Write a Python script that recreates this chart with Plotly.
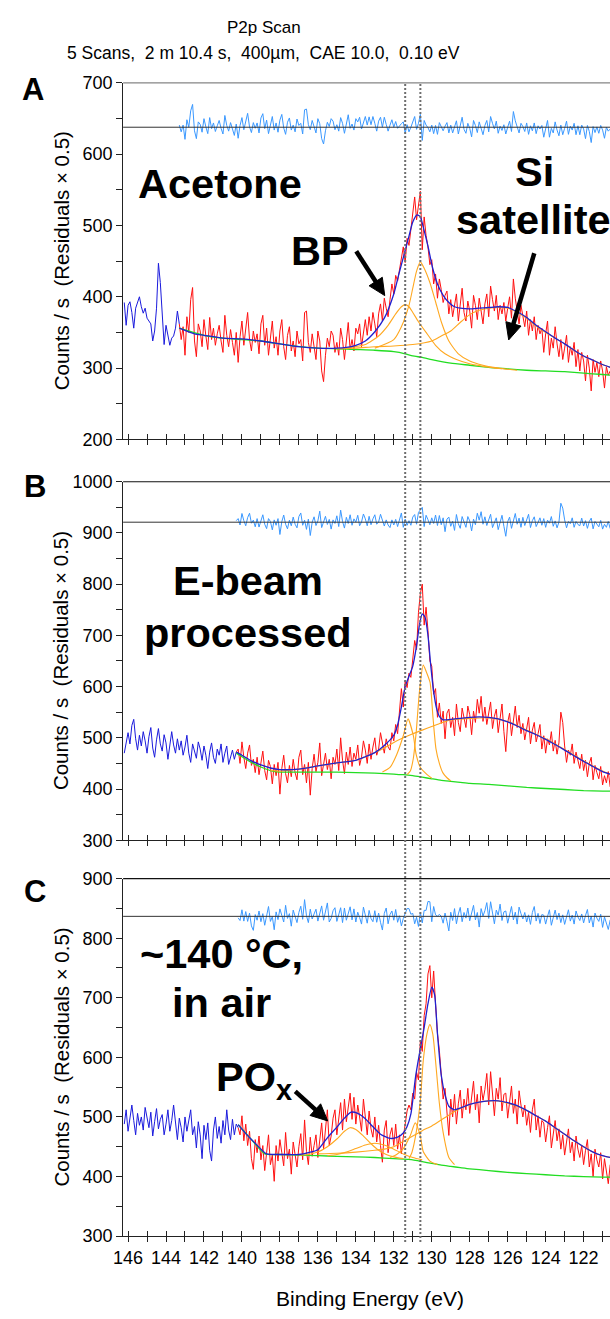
import numpy as np
import plotly.graph_objects as go

W, H = 610, 1319
FONT = "Liberation Sans, Arial, sans-serif"

# ---------------------------------------------------------------- energy grid
E_FIRST = 146.2          # first channel of the scan (eV)
E_STEP = 0.1             # step size (eV)
X_RANGE = [146.26, 120.61]
PEAK_LINES = [131.4, 130.6]   # dotted guides at the P 2p doublet

# ================================================================ panel A
FIT_START_A = 143.3
RES_ZERO_A = 637.8
RAW_A = [
    392, 360, 388, 393, 378, 356, 384, 392, 400, 386,
    377, 384, 370, 366, 362, 338, 352, 384, 447, 420,
    372, 333, 360, 348, 332, 342, 345, 356, 380, 362,
    340, 358, 318, 372, 350, 396, 413, 338, 316, 362,
    352, 330, 368, 345, 326, 371, 340, 356, 332, 348,
    360, 338, 322, 374, 346, 330, 354, 336, 318, 350,
    308, 344, 366, 332, 358, 378, 340, 324, 352, 336,
    348, 320, 362, 374, 332, 356, 318, 340, 366, 328,
    344, 318, 352, 368, 330, 312, 346, 358, 324, 338,
    316, 352, 334, 340, 310, 378, 380, 336, 322, 348,
    330, 312, 352, 338, 296, 281, 318, 342, 330, 352,
    346, 322, 336, 318, 356, 340, 312, 338, 364, 326,
    340, 324, 356, 348, 362, 330, 352, 368, 346, 372,
    352, 378, 362, 344, 376, 390, 366, 398, 384, 372,
    396, 418, 404, 430, 422, 440, 455, 470, 448, 482,
    472, 495, 520, 540, 508, 525, 548, 466, 512, 486,
    470, 445, 452, 418, 432, 398, 425, 410, 392, 402,
    408, 376, 396, 372, 388, 404, 366, 392, 412, 378,
    366, 394, 380, 356, 402, 388, 368, 398, 376, 362,
    390, 404, 372, 415, 396, 380, 402, 368, 388, 376,
    392, 366, 384, 400, 370, 425, 398, 376, 362, 388,
    374, 358, 380, 346, 368, 352, 372, 340, 360, 348,
    356, 322, 348, 366, 318, 342, 328, 358, 334, 316,
    340, 312, 328, 346, 308, 330, 318, 336, 302, 326,
    296, 322, 310, 282, 318, 300, 268, 312, 294, 308,
    288, 310, 296, 272, 302, 290, 296,
]
RES_A = [
    6,
    -13, 6, -34, 21, 0, 46, 64, -10, -32, 15,
    8, -14, 24, 1, -18, 27, -4, 12, -12, 4,
    19, -3, -19, 33, 5, -11, 13, -5, -23, 9,
    -31, 5, 27, -7, 19, 39, 1, -15, 13, -3,
    12, -16, 26, 38, -4, 20, -18, 4, 30, -8,
    12, -14, 20, 36, -2, -20, 14, 26, -8, 6,
    -13, 23, 5, 11, -19, 49, 51, 7, -7, 19,
    2, -16, 24, 10, -32, -47, -10, 14, 2, 24,
    17, -7, 7, -11, 27, 11, -17, 9, 35, -3,
    9, -8, 24, 15, 28, -5, 15, 30, 6, 29,
    7, 30, 11, -11, 17, 28, 0, 28, 8, -11,
    6, 21, 0, 16, -3, 5, 10, 15, -17, 7,
    -13, 0, 15, 30, -6, 11, 36, -37, 19, 6,
    -1, -13, 6, -18, 5, -20, 13, 3, -10, 3,
    13, -16, 6, -16, 2, 18, -19, 8, 28, -6,
    -17, 11, -3, -27, 19, 5, -15, 15, -7, -21,
    5, 19, -13, 30, 11, -5, 17, -17, 3, -9,
    7, -19, 0, 17, -12, 44, 18, -3, -16, 11,
    2, -12, 12, -20, 4, -10, 12, -18, 4, -5,
    5, -28, 0, 19, -28, -3, -16, 15, -8, -24,
    6, -21, -3, 17, -20, 3, -8, 11, -21, 4,
    -21, 6, -5, -32, 5, -12, -43, 2, -15, 1,
    -17, 5, -8, -31, 0, -11, -5,
]
ENV_A_E = [143.3, 142.5, 142, 141, 140, 139, 138, 137, 136, 135, 134.5, 134, 133.5,
           133, 132.5, 132, 131.75, 131.5, 131.2, 131.0, 130.77, 130.6, 130.45, 130.2,
           129.95, 129.7, 129.4, 129.1, 128.8, 128.5, 128, 127.5, 127, 126.5, 126, 125.5,
           125, 124.5, 124, 123.5, 123, 122.5, 122, 121.5, 121, 120.6]
ENV_A = [356, 348, 346, 342, 341, 338, 334, 330, 328, 328, 329, 332, 338,
         351, 370, 404, 430, 455, 485, 505, 515, 512, 498, 471,
         440, 418, 402, 392, 386, 384, 383, 384, 385, 386, 385, 379,
         371, 360, 351, 342, 334, 325, 317, 311, 305, 301]
BG_A_E = [143.3, 142, 141, 140, 139, 138, 137, 136, 135, 134, 133, 132, 131.4, 131,
          130.5, 130, 129, 128, 127, 126, 125, 124, 123, 122, 121, 120.6]
BG_A = [356, 346, 342, 340, 338, 334, 330, 328, 327, 326, 325, 323, 320, 317,
        315, 312, 307, 304, 301, 299, 297, 296, 295, 293, 291, 290]
COMPS_A = [
    ([133.0, 132.0, 131.6, 131.2, 131.0, 130.8, 130.6, 130.4, 130.1, 129.8, 129.5,
      129.1, 128.6, 128.0, 127.3, 126.5, 125.5],
     [328, 340, 358, 388, 412, 436, 449, 440, 420, 393, 365, 338, 320, 310, 304, 300, 297]),
    ([134.5, 133.5, 132.8, 132.3, 131.9, 131.6, 131.4, 131.2, 131.0, 130.7, 130.3,
      129.8, 129.3, 128.7, 128.0, 127.2, 126.3],
     [328, 333, 345, 360, 376, 386, 389, 386, 378, 365, 350, 332, 320, 312, 306, 302, 299]),
    ([135, 134, 133, 132, 131, 130, 129.5, 129, 128.5, 128, 127.5, 127, 126.5, 126,
      125.5, 125, 124.5, 124, 123.5, 123, 122.5, 122, 121.5, 121, 120.6],
     [327, 328, 330, 331, 333, 338, 345, 352, 364, 375, 381, 384, 385, 384,
      378, 370, 359, 350, 342, 334, 325, 317, 311, 305, 301]),
]

# ================================================================ panel B
FIT_START_B = 140.3
RES_ZERO_B = 921.0
RAW_B = [
    470, 492, 510, 488, 524, 536, 498, 476, 505, 484,
    512, 494, 470, 502, 520, 480, 462, 496, 518, 488,
    474, 506, 490, 458, 482, 512, 486, 470, 498, 476,
    494, 466, 482, 505, 470, 452, 488, 472, 460, 492,
    478, 456, 484, 466, 440, 472, 490, 462, 450, 478,
    466, 488, 452, 470, 484, 448, 462, 476, 458, 472,
    478, 450, 492, 462, 440, 470, 486, 446, 458, 432,
    462, 428, 450, 474, 436, 418, 456, 444, 410, 448,
    426, 452, 390, 440, 466, 430, 412, 446, 424, 458,
    432, 418, 462, 476, 428, 448, 412, 452, 388, 440,
    468, 434, 452, 490, 426, 446, 470, 438, 458, 420,
    462, 448, 478, 436, 500, 456, 430, 472, 448, 482,
    444, 470, 458, 486, 446, 462, 494, 476, 450, 488,
    458, 482, 500, 466, 478, 510, 488, 470, 498, 482,
    476, 510, 494, 526, 508, 548, 596, 560, 612, 598,
    626, 618, 660, 690, 672, 745, 782, 800, 720, 755,
    710, 650, 640, 585, 596, 540, 568, 528, 552, 498,
    548, 556, 520, 540, 504, 566, 530, 512, 558, 536,
    520, 562, 545, 506, 552, 530, 575, 548, 581, 532,
    560, 526, 548, 570, 518, 542, 556, 510, 538, 566,
    512, 473, 530, 548, 504, 536, 562, 520, 544, 508,
    528, 496, 520, 540, 488, 515, 530, 492, 508, 526,
    478, 504, 470, 498, 486, 512, 474, 495, 468, 490,
    550, 530, 484, 452, 476, 466, 488, 450, 472, 458,
    440, 468, 436, 456, 424, 450, 462, 418, 446, 432,
    420, 444, 408, 426, 412, 434, 404,
]
RES_B = [
    6,
    14, -11, 34, 6, -14, 18, 35, -4, 8, -18,
    14, -19, 4, 29, -8, -25, 14, 3, -30, 9,
    -12, 14, -48, 2, 28, -8, -26, 8, -14, 20,
    -8, -22, 22, 36, -12, 8, -28, 12, -52, 0,
    21, -13, 5, 43, -21, -1, 23, -9, 11, -27,
    9, -5, 25, -17, 47, 3, -23, 19, -5, 29,
    -12, 13, 0, 27, -14, 1, 32, 13, -14, 23,
    -10, 13, 29, -8, 1, 31, 6, -15, 9, -11,
    -21, 9, -11, 11, -17, 6, 36, -20, 12, -12,
    6, -12, 20, 30, -8, 38, 49, 58, -17, 27,
    10, -10, 17, -5, 28, -13, 26, -10, 17, -37,
    12, 20, -16, 4, -32, 30, -6, -24, 22, 0,
    -20, 22, 5, -34, 12, -10, 35, 8, 41, -8,
    21, -13, 9, 31, -21, 3, 17, -29, -1, 27,
    -16, -55, 2, 20, -24, 8, 34, -8, 16, -20,
    19, -13, 11, 31, -21, 6, 21, -17, -1, 17,
    -12, 14, -20, 8, -4, 22, -16, 5, -22, 0,
    74, 55, 9, -22, 3, -6, 17, -20, 3, -9,
    -14, 16, -15, 6, -24, 3, 16, -26, 3, -9,
    -18, 7, -27, -8, -20, 3, -25,
]
ENV_B_E = [140.3, 140, 139.5, 139, 138.5, 138, 137, 136, 135, 134, 133.5, 133, 132.5,
           132, 131.8, 131.6, 131.4, 131.2, 131.0, 130.8, 130.65, 130.5, 130.35, 130.2,
           130.05, 129.9, 129.75, 129.6, 129.4, 129, 128.5, 128, 127.5, 127, 126.5, 126,
           125.5, 125, 124.5, 124, 123.5, 123, 122.5, 122, 121.5, 121, 120.6]
ENV_B = [472, 466, 455, 447, 441, 438, 439, 445, 451, 456, 463, 471, 485,
         505, 525, 560, 600, 620, 640, 680, 720, 742, 735, 700,
         640, 590, 558, 542, 535, 536, 538, 540, 541, 540, 537, 531,
         523, 514, 506, 497, 487, 476, 465, 454, 444, 434, 429]
BG_B_E = [140.3, 140, 139.5, 139, 138.5, 138, 137, 136, 135, 134, 133, 132, 131.5, 131,
          130.5, 130, 129.5, 129, 128.5, 128, 127, 126, 125, 124, 123, 122, 121, 120.6]
BG_B = [470, 463, 452, 443, 436, 433, 433, 433, 433, 432, 431, 429, 428, 426,
        423, 420, 417, 415, 413, 411, 409, 406, 403, 401, 399, 397, 396, 396]
COMPS_B = [
    ([131.3, 131.13, 130.97, 130.82, 130.65, 130.45, 130.3, 130.09, 129.94, 129.78,
      129.6, 129.42, 129.2, 129.0],
     [428, 435, 460, 511, 590, 642, 630, 608, 542, 479, 450, 432, 422, 416]),
    ([132.6, 132.2, 131.85, 131.5, 131.25, 130.97, 130.82, 130.6, 130.3, 130.0],
     [433, 442, 467, 504, 537, 504, 467, 442, 430, 421]),
    ([138.5, 138, 137, 136, 135, 134, 133, 132.5, 132, 131.5, 131, 130.5, 130, 129.5,
      129, 128, 127, 126, 125, 124, 123, 122, 121, 120.6],
     [436, 435, 439, 445, 451, 456, 471, 480, 491, 500, 508, 515, 522, 529,
      535, 538, 539, 532, 515, 498, 477, 455, 435, 429]),
]

# ================================================================ panel C
FIT_START_C = 140.2
RES_ZERO_C = 836.7
RAW_C = [
    488, 512, 476, 498, 520, 494, 470, 506, 486, 500,
    478, 516, 496, 482, 508, 468, 492, 514, 480, 496,
    504, 470, 488, 512, 476, 494, 520, 486, 462, 498,
    482, 458, 500, 476, 494, 512, 470, 484, 448, 492,
    470, 430, 486, 462, 490, 444, 426, 478, 500, 464,
    484, 456, 494, 470, 512, 478, 462, 496, 470, 488,
    482,
    470, 502, 460, 488, 452, 476, 430, 412, 462, 440,
    468, 428, 452, 410, 444, 470, 420, 436, 392, 452,
    426, 462, 440, 418, 474, 430, 446, 404, 458, 432,
    416, 450, 472, 428, 495, 442, 420, 466, 434, 452,
    470, 432, 458, 490, 446, 480, 512, 452, 468, 498,
    512, 470, 500, 524, 478, 530, 492, 515, 540, 496,
    533, 488, 520, 500, 476, 530, 498, 470, 510, 480,
    466, 500, 458, 486, 452, 424, 478, 494, 440, 470,
    482, 452, 488, 446, 470, 438, 466, 486, 510, 520,
    512, 540, 530, 575, 562, 628, 610, 670, 690, 740,
    754, 700, 745, 690, 640, 612, 570, 530, 548, 510,
    469, 530, 500, 538, 488, 522, 545, 498, 530, 512,
    548, 506, 530, 560, 512, 538, 490, 552, 528, 546,
    573, 520, 576, 540, 502, 548, 530, 566, 510, 538,
    540, 498, 526, 552, 506, 530, 488, 544, 520, 500,
    520, 486, 508, 474, 512, 530, 478, 502, 466, 494,
    490, 458, 482, 502, 448, 476, 494, 460, 480, 446,
    470, 436, 462, 480, 440, 458, 426, 468, 446, 432,
    452, 420, 444, 462, 416, 438, 400, 446, 428, 416,
    440, 396, 430, 412, 388, 420,
]
RES_C = [
    -5,
    -14, 22, -16, 16, -17, 11, -32, -47, 6, -13,
    18, -18, 9, -30, 6, 33, -17, -1, -45, 15,
    -11, 25, 3, -19, 37, -7, 9, -33, 21, -5,
    -21, 13, 34, -10, 56, 2, -21, 24, -9, 8,
    24, -16, 7, 35, -13, 17, 45, -19, -7, 19,
    29, -17, 9, 29, -21, 28, -13, 8, 32, -12,
    25, -19, 14, -4, -26, 31, 2, -23, 20, -7,
    -18, 19, -20, 11, -20, -46, 10, 28, -25, 6,
    18, -13, 23, -20, 2, -32, -7, 8, 26, 26,
    7, 10, -25, -3, -34, 13, -22, 20, 20, 50,
    49, -18, 33, 5, 0, 7, 0, -23, 11, -17,
    -49, 14, -14, 26, -25, 8, 30, -18, 13, -6,
    28, -15, 8, 37, -12, 13, -36, 26, 1, 19,
    46, -7, 49, 13, -25, 21, 4, 41, -14, 15,
    18, -23, 6, 33, -12, 14, -26, 31, 9, -9,
    13, -19, 5, -27, 13, 33, -16, 10, -24, 6,
    4, -26, 0, 22, -30, 0, 21, -11, 11, -21,
    5, -27, 2, 22, -16, 4, -26, 18, -2, -14,
    8, -22, 3, 23, -22, 1, -36, 11, -6, -17,
    7, -37, -2, -20, -44, -12,
]
ENV_C_E = [140.2, 139.8, 139.4, 139.0, 138.7, 138, 137.5, 137, 136.5, 136, 135.5, 135,
           134.6, 134.25, 133.9, 133.5, 133.2, 132.7, 132.2, 131.8, 131.5, 131.3, 131.1,
           130.85, 130.6, 130.4, 130.2, 130.0, 129.85, 129.7, 129.5, 129.3, 129.1, 128.8,
           128.4, 128, 127.5, 127, 126.5, 126, 125.5, 125, 124.5, 124, 123.5, 123, 122.5,
           122, 121.5, 121, 120.6]
ENV_C = [487, 472, 459, 446, 438, 437, 437, 437, 440, 445, 465, 483,
         498, 508, 506, 497, 487, 471, 464, 466, 473, 484, 505,
         568, 615, 650, 690, 718, 705, 640, 570, 537, 518, 512,
         516, 521, 525, 527, 527, 524, 519, 511, 502, 493, 482, 471, 460,
         450, 441, 435, 432]
BG_C_E = [140.2, 139.5, 138.8, 138, 137, 136, 135, 134, 133, 132, 131, 130.5, 130, 129.5,
          129, 128.5, 128, 127, 126, 125, 124, 123, 122, 121, 120.6]
BG_C = [487, 462, 438, 437, 436, 435, 434, 433, 432, 430, 428, 425, 422, 419,
        417, 415, 413, 410, 407, 405, 403, 401, 400, 399, 399]
COMPS_C = [
    ([131.2, 131.05, 130.82, 130.6, 130.45, 130.25, 130.1, 129.95, 129.8, 129.6, 129.4,
      129.1, 128.8],
     [430, 440, 474, 528, 594, 640, 655, 640, 594, 523, 474, 432, 420]),
    ([132.2, 131.85, 131.5, 131.13, 130.87, 130.61, 130.45, 130.1, 129.7],
     [432, 437, 447, 469, 490, 469, 442, 426, 420]),
    ([137.0, 136.5, 136.0, 135.5, 135.0, 134.6, 134.3, 134.0, 133.6, 133.2, 132.8,
      132.4, 132.0, 131.5],
     [436, 437, 441, 450, 463, 476, 482, 479, 468, 455, 444, 437, 433, 430]),
    ([135.5, 135.0, 134.5, 134.0, 133.5, 133.0, 132.5, 132.0, 131.5, 131.0, 130.5],
     [435, 437, 441, 447, 453, 456, 453, 446, 438, 432, 428]),
    ([136, 135, 134, 133, 132.5, 132, 131.5, 131, 130.5, 130, 129.5, 129, 128.5, 128,
      127.5, 127, 126.5, 126, 125.5, 125, 124.5, 124, 123.5, 123, 122.5, 122, 121.5,
      121, 120.6],
     [438, 439, 441, 444, 446, 450, 459, 468, 477, 485, 495, 505, 514, 521,
      525, 527, 527, 523, 518, 511, 502, 493, 482, 471, 460, 450, 441, 435, 432]),
]

# ---------------------------------------------------------------- colours
C_RAW_OUT = "#1a1adc"
C_RAW_IN = "#ff1010"
C_ENV = "#2020d0"
C_RES = "#3a98ff"
C_BG = "#22dd22"
C_COMP = "#ffa820"

# pixel geometry of the three panels (top, bottom)
PANELS = [
    dict(top=74, bottom=436, yr=[200, 700], raw=RAW_A, res=RES_A, start=FIT_START_A,
         zero=RES_ZERO_A, env=(ENV_A_E, ENV_A), bg=(BG_A_E, BG_A), comps=COMPS_A,
         frame="#858585"),
    dict(top=479, bottom=843, yr=[300, 1000], raw=RAW_B, res=RES_B, start=FIT_START_B,
         zero=RES_ZERO_B, env=(ENV_B_E, ENV_B), bg=(BG_B_E, BG_B), comps=COMPS_B,
         frame="#111111"),
    dict(top=882, bottom=1245, yr=[300, 900], raw=RAW_C, res=RES_C, start=FIT_START_C,
         zero=RES_ZERO_C, env=(ENV_C_E, ENV_C), bg=(BG_C_E, BG_C), comps=COMPS_C,
         frame="#111111"),
]

TICK_SIZE = 18


def px_x(px):
    return px / W


def px_y(py):
    return 1 - py / H


def energies(start, n):
    return np.round(start - E_STEP * np.arange(n), 2)


fig = go.Figure()
layout = dict(
    width=W, height=H, margin=dict(l=0, r=0, t=0, b=0),
    paper_bgcolor="white", plot_bgcolor="white", showlegend=False,
    font=dict(family=FONT, color="black"),
)
shapes, annotations = [], []
X_DOMAIN = [px_x(115), 1.0]

for i, p in enumerate(PANELS):
    n = i + 1
    xa = "x" if n == 1 else f"x{n}"
    ya = "y" if n == 1 else f"y{n}"
    xo = f"x{n + 3}"

    # residuals, drawn around their own zero line
    ex = energies(p["start"], len(p["res"]))
    fig.add_trace(go.Scatter(x=ex, y=p["zero"] + 0.5 * np.array(p["res"]), mode="lines",
                             line=dict(color=C_RES, width=1), xaxis=xa, yaxis=ya))

    # measured counts: outside the fit window in blue, inside in red
    e_all = energies(E_FIRST, len(p["raw"]))
    raw = np.array(p["raw"], dtype=float)
    outside = e_all >= p["start"] - 1e-6
    inside = e_all <= p["start"] + 1e-6
    fig.add_trace(go.Scatter(x=e_all[outside], y=raw[outside], mode="lines",
                             line=dict(color=C_RAW_OUT, width=1), xaxis=xa, yaxis=ya))
    fig.add_trace(go.Scatter(x=e_all[inside], y=raw[inside], mode="lines",
                             line=dict(color=C_RAW_IN, width=1), xaxis=xa, yaxis=ya))

    # background, components, envelope
    fig.add_trace(go.Scatter(x=p["bg"][0], y=p["bg"][1], mode="lines",
                             line=dict(color=C_BG, width=1.3, shape="spline", smoothing=0.5),
                             xaxis=xa, yaxis=ya))
    for ce, cv in p["comps"]:
        fig.add_trace(go.Scatter(x=ce, y=cv, mode="lines",
                                 line=dict(color=C_COMP, width=1.1, shape="spline", smoothing=0.6),
                                 xaxis=xa, yaxis=ya))
    fig.add_trace(go.Scatter(x=p["env"][0], y=p["env"][1], mode="lines",
                             line=dict(color=C_ENV, width=1.3, shape="spline", smoothing=0.6),
                             xaxis=xa, yaxis=ya))
    # empty trace so the inside-tick overlay axis is drawn
    fig.add_trace(go.Scatter(x=[], y=[], xaxis=xo, yaxis=ya, hoverinfo="skip"))

    dom = [px_y(p["bottom"]), px_y(p["top"])]
    last = n == 3
    layout["xaxis" if n == 1 else f"xaxis{n}"] = dict(
        domain=X_DOMAIN, anchor=ya, range=X_RANGE, showgrid=False, zeroline=False,
        showline=True, linecolor="#222222", linewidth=1,
        ticks="outside", ticklen=5, tickcolor="#222222", dtick=2, tick0=0,
        minor=dict(ticks="outside", ticklen=5, dtick=1, tickcolor="#222222"),
        showticklabels=last, tickfont=dict(size=TICK_SIZE, family=FONT, color="black"),
    )
    layout[f"xaxis{n + 3}"] = dict(
        domain=X_DOMAIN, anchor=ya, overlaying=xa, range=X_RANGE, showgrid=False,
        zeroline=False, showline=False, ticks="inside", ticklen=5, tickcolor="#222222",
        dtick=2, tick0=0, minor=dict(ticks="inside", ticklen=5, dtick=1, tickcolor="#222222"),
        showticklabels=False,
    )
    layout["yaxis" if n == 1 else f"yaxis{n}"] = dict(
        domain=dom, anchor=xa, range=p["yr"], showgrid=False, zeroline=False,
        showline=True, linecolor="#222222", linewidth=1,
        ticks="outside", ticklen=6, tickcolor="#222222", dtick=100, tick0=0,
        minor=dict(ticks="outside", ticklen=6, dtick=50, tickcolor="#222222"),
        tickfont=dict(size=TICK_SIZE, family=FONT, color="black"),
    )

    # frame line on top of the panel and residual zero line
    shapes.append(dict(type="line", xref="paper", yref="paper", x0=X_DOMAIN[0], x1=1,
                       y0=dom[1], y1=dom[1], line=dict(color=p["frame"], width=1.2)))
    shapes.append(dict(type="line", xref="paper", yref=ya, x0=X_DOMAIN[0], x1=1,
                       y0=p["zero"], y1=p["zero"], line=dict(color="#333333", width=1)))

    # y-axis title
    annotations.append(dict(
        x=px_x(52), y=px_y((p["top"] + p["bottom"]) / 2), xref="paper", yref="paper",
        text="Counts / s\u00a0\u00a0(Residuals × 0.5)", textangle=-90, showarrow=False,
        font=dict(size=20.5, family=FONT, color="black"), xanchor="center", yanchor="middle"))

# dotted guides through all three panels
for e in PEAK_LINES:
    shapes.append(dict(type="line", xref="x", yref="paper", x0=e, x1=e,
                       y0=px_y(1251), y1=px_y(74),
                       line=dict(color="#6e6e6e", width=2, dash="2px,2px")))


def text_at(px, py, txt, size, bold=False, anchor="center"):
    annotations.append(dict(
        x=px_x(px), y=px_y(py), xref="paper", yref="paper", showarrow=False,
        text=f"<b>{txt}</b>" if bold else txt, xanchor=anchor, yanchor="middle",
        font=dict(size=size, family=FONT, color="black")))


def arrow(tip, tail, width=4.5, head_len=17, head_w=16):
    """Black pointer drawn as a thick shaft plus a filled triangular head."""
    tip = np.array(tip, float)
    tail = np.array(tail, float)
    u = (tip - tail) / np.linalg.norm(tip - tail)
    nrm = np.array([-u[1], u[0]])
    base = tip - u * head_len
    shapes.append(dict(type="line", xref="paper", yref="paper",
                       x0=px_x(tail[0]), y0=px_y(tail[1]),
                       x1=px_x(base[0] + u[0] * 2), y1=px_y(base[1] + u[1] * 2),
                       line=dict(color="black", width=width)))
    c1 = base + nrm * head_w / 2
    c2 = base - nrm * head_w / 2
    path = (f"M {px_x(tip[0])},{px_y(tip[1])} L {px_x(c1[0])},{px_y(c1[1])} "
            f"L {px_x(c2[0])},{px_y(c2[1])} Z")
    shapes.append(dict(type="path", xref="paper", yref="paper", path=path,
                       fillcolor="black", line=dict(color="black", width=1)))


# titles
text_at(258, 18, "P2p Scan", 17)
text_at(258, 44, "5 Scans,\u00a0\u00a02 m 10.4 s,\u00a0\u00a0400µm,\u00a0\u00a0CAE 10.0,\u00a0\u00a00.10 eV", 17.5)
text_at(366, 1308, "Binding Energy (eV)", 21)

# panel letters
text_at(23, 81, "A", 31, bold=True)
text_at(25, 484, "B", 31, bold=True)
text_at(25, 895, "C", 31, bold=True)

# sample labels
text_at(214, 176, "Acetone", 41.5, bold=True)
text_at(315, 244, "BP", 41.5, bold=True)
text_at(533, 164, "Si", 41.5, bold=True)
text_at(532, 213, "satellite", 41.5, bold=True)
text_at(242, 579, "E-beam", 41.5, bold=True)
text_at(242, 632, "processed", 41.5, bold=True)
text_at(215, 958, "~140 °C,", 41.5, bold=True)
text_at(215, 1008, "in air", 41.5, bold=True)
text_at(207, 1086, "PO<sub>x</sub>", 41.5, bold=True, anchor="left")

arrow((381, 290), (352, 245))
arrow((507, 335), (533, 247))
arrow((323, 1128), (290, 1098))

layout["shapes"] = shapes
layout["annotations"] = annotations
fig.update_layout(**layout)
fig.write_html("out.html")
